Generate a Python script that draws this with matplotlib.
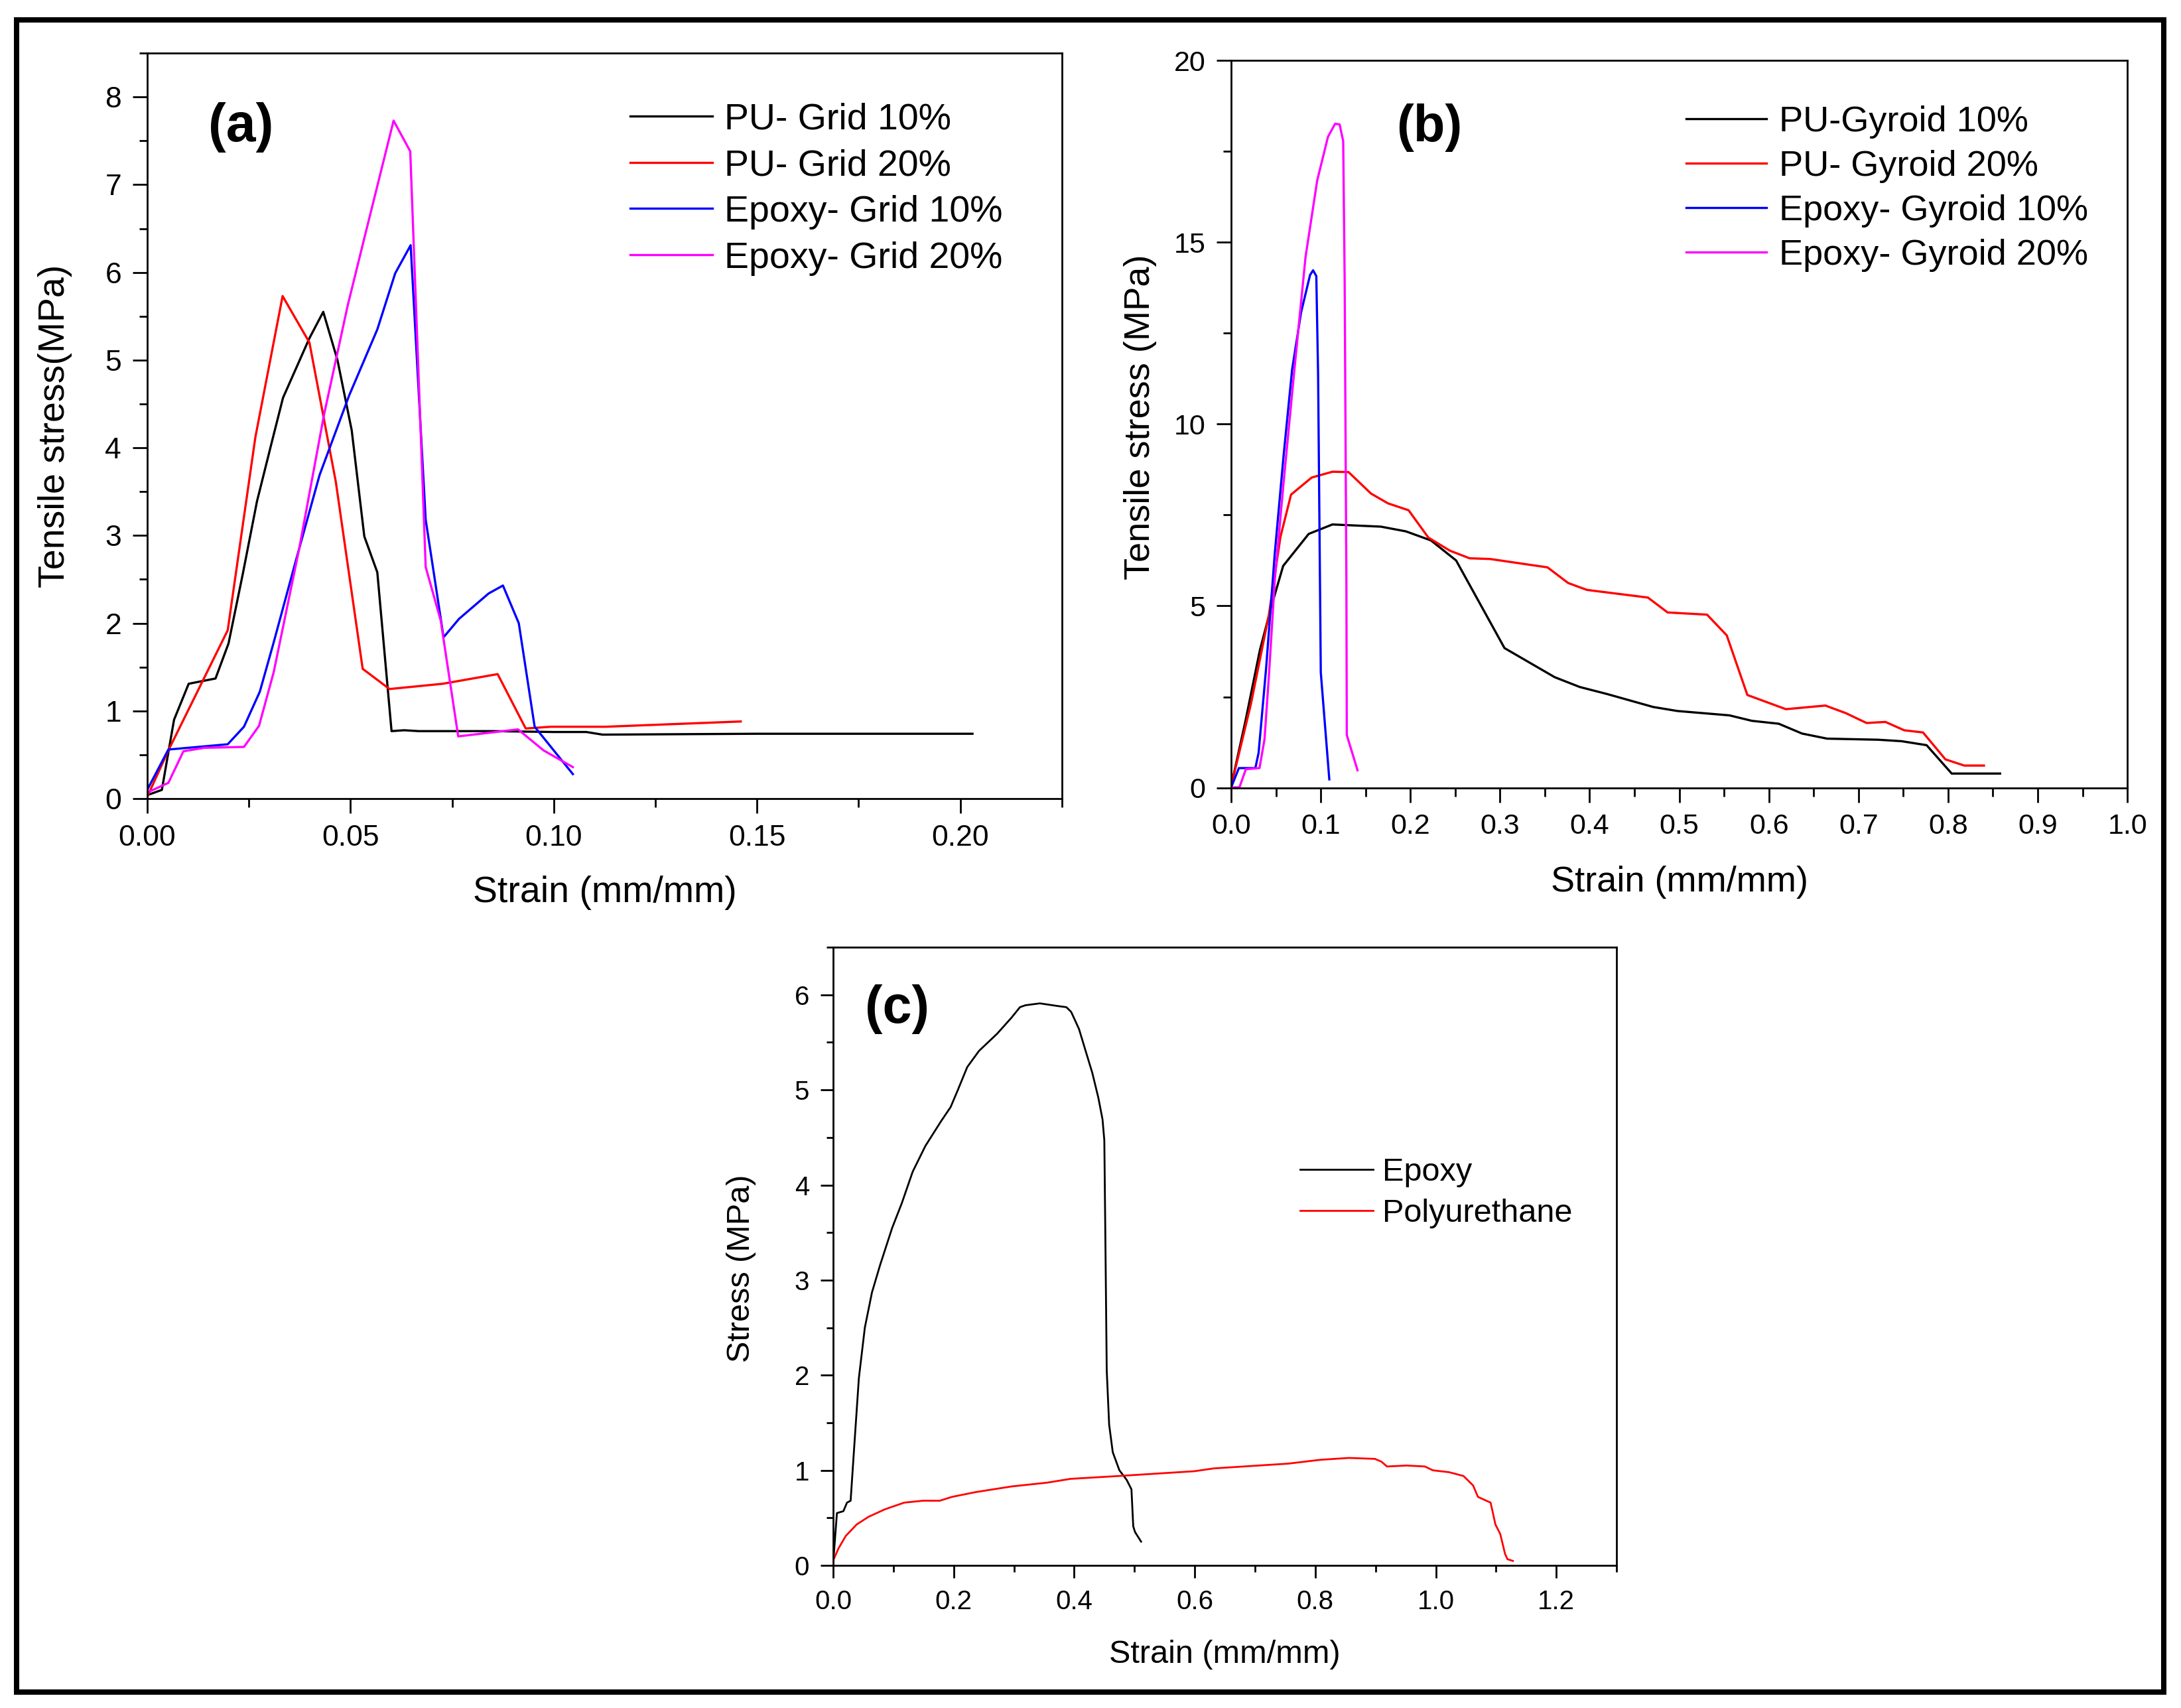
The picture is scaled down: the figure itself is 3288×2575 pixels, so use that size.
import matplotlib
matplotlib.use("Agg")
import matplotlib.pyplot as plt
from matplotlib.patches import Rectangle
from matplotlib.ticker import MultipleLocator, FormatStrFormatter

plt.rcParams['font.family'] = ['Liberation Sans', 'DejaVu Sans']

# ---------------- (a) grid structures ----------------
pu_grid10_x = [0, 0.0036, 0.0066, 0.0102, 0.0168, 0.020, 0.0235, 0.027, 0.0304, 0.0334, 0.0399, 0.0433,
               0.0468, 0.0503, 0.0534, 0.0566, 0.0601, 0.0632, 0.0668, 0.085, 0.100, 0.108, 0.112, 0.15,
               0.18, 0.203]
pu_grid10_y = [0.04, 0.1, 0.9, 1.31, 1.37, 1.77, 2.56, 3.39, 4.02, 4.57, 5.25, 5.55,
               5.0, 4.2, 2.99, 2.58, 0.77, 0.78, 0.77, 0.77, 0.76, 0.76, 0.73, 0.74,
               0.74, 0.74]

pu_grid20_x = [0, 0.0052, 0.0198, 0.0266, 0.0333, 0.0399, 0.0464, 0.053, 0.0596, 0.0727, 0.0862,
               0.0931, 0.0993, 0.1128, 0.146]
pu_grid20_y = [0.02, 0.55, 1.92, 4.12, 5.73, 5.2, 3.61, 1.48, 1.25, 1.31, 1.42,
               0.80, 0.82, 0.82, 0.88]

ep_grid10_x = [0, 0.0052, 0.0198, 0.0238, 0.0277, 0.0311, 0.0366, 0.0424, 0.0497, 0.0566, 0.061,
               0.0648, 0.0685, 0.0729, 0.0767, 0.084, 0.0875, 0.0914, 0.0953, 0.1047]
ep_grid10_y = [0.1, 0.56, 0.62, 0.82, 1.22, 1.78, 2.72, 3.69, 4.6, 5.35, 5.99,
               6.31, 3.18, 1.84, 2.05, 2.34, 2.43, 2.0, 0.82, 0.28]

ep_grid20_x = [0, 0.0052, 0.0089, 0.014, 0.0238, 0.0275, 0.0311, 0.0373, 0.0435, 0.0493, 0.0534,
               0.0606, 0.0647, 0.0685, 0.0722, 0.0765, 0.0912, 0.0975, 0.1047]
ep_grid20_y = [0.07, 0.18, 0.54, 0.58, 0.59, 0.83, 1.44, 2.83, 4.38, 5.62, 6.39,
               7.73, 7.38, 2.64, 2.03, 0.71, 0.79, 0.55, 0.36]

labels_a = ["PU- Grid 10%", "PU- Grid 20%", "Epoxy- Grid 10%", "Epoxy- Grid 20%"]

# ---------------- (b) gyroid structures ----------------
pu_gyr10_x = [0, 0.0158, 0.032, 0.045, 0.058, 0.0865, 0.113, 0.167, 0.195, 0.223, 0.251, 0.305,
              0.361, 0.389, 0.419, 0.471, 0.498, 0.556, 0.581, 0.611, 0.637, 0.665, 0.722, 0.748,
              0.776, 0.804, 0.848, 0.858]
pu_gyr10_y = [0.05, 1.82, 3.78, 5.0, 6.1, 6.98, 7.24, 7.18, 7.05, 6.8, 6.25, 3.84,
              3.04, 2.77, 2.58, 2.22, 2.11, 1.99, 1.84, 1.76, 1.49, 1.35, 1.32, 1.28,
              1.17, 0.39, 0.39, 0.39]

pu_gyr20_x = [0, 0.022, 0.042, 0.055, 0.0668, 0.0898, 0.113, 0.131, 0.156, 0.175, 0.198, 0.22,
              0.244, 0.266, 0.289, 0.353, 0.376, 0.397, 0.465, 0.487, 0.531, 0.553, 0.576, 0.619,
              0.663, 0.686, 0.709, 0.73, 0.751, 0.772, 0.797, 0.818, 0.84]
pu_gyr20_y = [0.05, 2.3, 4.74, 6.9, 8.06, 8.53, 8.69, 8.68, 8.09, 7.82, 7.63, 6.88,
              6.52, 6.31, 6.29, 6.06, 5.63, 5.44, 5.23, 4.82, 4.76, 4.19, 2.55, 2.16,
              2.26, 2.05, 1.78, 1.81, 1.58, 1.52, 0.78, 0.61, 0.61]

ep_gyr10_x = [0, 0.0086, 0.027, 0.0306, 0.039, 0.0487, 0.0586, 0.068, 0.078, 0.088, 0.0914,
              0.095, 0.097, 0.1, 0.1095]
ep_gyr10_y = [0.01, 0.54, 0.54, 0.96, 3.29, 6.46, 9.16, 11.5, 13.07, 14.1, 14.23,
              14.07, 11.36, 3.17, 0.23]

ep_gyr20_x = [0, 0.0092, 0.0164, 0.0316, 0.0372, 0.042, 0.0487, 0.0586, 0.07, 0.083, 0.096,
              0.108, 0.116, 0.121, 0.125, 0.1266, 0.1286, 0.129, 0.141]
ep_gyr20_y = [0.01, 0.01, 0.51, 0.54, 1.33, 3.04, 5.72, 8.42, 11.36, 14.6, 16.7,
              17.9, 18.26, 18.24, 17.78, 14.05, 5.49, 1.45, 0.48]

labels_b = ["PU-Gyroid 10%", "PU- Gyroid 20%", "Epoxy- Gyroid 10%", "Epoxy- Gyroid 20%"]

# ---------------- (c) bulk materials ----------------
epoxy_x = [0, 0.0063, 0.017, 0.023, 0.029, 0.0348, 0.0427, 0.0526, 0.0644, 0.078, 0.098, 0.114,
           0.132, 0.153, 0.179, 0.195, 0.207, 0.2225, 0.242, 0.272, 0.296, 0.31, 0.319, 0.343,
           0.375, 0.387, 0.395, 0.408, 0.418, 0.43, 0.44, 0.447, 0.45, 0.452, 0.454, 0.458,
           0.464, 0.475, 0.487, 0.495, 0.498, 0.501, 0.511]
epoxy_y = [0.02, 0.55, 0.57, 0.66, 0.68, 1.23, 1.97, 2.5, 2.87, 3.16, 3.55, 3.81,
           4.14, 4.41, 4.67, 4.82, 5.0, 5.24, 5.41, 5.59, 5.76, 5.87, 5.89, 5.91,
           5.88, 5.87, 5.82, 5.64, 5.43, 5.18, 4.92, 4.69, 4.47, 3.28, 2.05, 1.48,
           1.19, 1.0, 0.9, 0.8, 0.41, 0.35, 0.25]

pu_x = [0, 0.009, 0.021, 0.039, 0.0585, 0.086, 0.118, 0.149, 0.177, 0.197, 0.236, 0.296,
        0.355, 0.394, 0.474, 0.599, 0.632, 0.755, 0.808, 0.856, 0.899, 0.91, 0.919, 0.952,
        0.982, 0.995, 1.022, 1.046, 1.062, 1.07, 1.091, 1.099, 1.107, 1.115, 1.119, 1.128]
pu_y = [0.05, 0.18, 0.31, 0.43, 0.51, 0.59, 0.66, 0.68, 0.68, 0.72, 0.77, 0.83,
        0.87, 0.91, 0.94, 0.99, 1.02, 1.07, 1.11, 1.13, 1.12, 1.09, 1.04, 1.05,
        1.04, 1.0, 0.98, 0.94, 0.84, 0.72, 0.66, 0.43, 0.33, 0.12, 0.065, 0.047]

labels_c = ["Epoxy", "Polyurethane"]

colors4 = ['black', 'red', 'blue', 'magenta']

W, H = 3288, 2575
fig = plt.figure(figsize=(W / 100, H / 100), dpi=100)
fig.patch.set_facecolor('white')


def style_axes(ax, tick_fs):
    for s in ax.spines.values():
        s.set_linewidth(2.0)
    ax.tick_params(which='both', direction='out', top=False, right=False, width=2.0,
                   labelsize=tick_fs, pad=12)
    ax.tick_params(which='major', length=16)
    ax.tick_params(which='minor', length=9)


# ---- panel (a)
ax_a = fig.add_axes([0.0675, 0.5324, 0.4194, 0.4365])
for xs, ys, c, lab in zip([pu_grid10_x, pu_grid20_x, ep_grid10_x, ep_grid20_x],
                          [pu_grid10_y, pu_grid20_y, ep_grid10_y, ep_grid20_y],
                          colors4, labels_a):
    ax_a.plot(xs, ys, color=c, lw=2.4, label=lab)
ax_a.set_xlim(0, 0.225)
ax_a.set_ylim(0, 8.5)
ax_a.xaxis.set_major_locator(MultipleLocator(0.05))
ax_a.xaxis.set_minor_locator(MultipleLocator(0.025))
ax_a.xaxis.set_major_formatter(FormatStrFormatter('%.2f'))
ax_a.yaxis.set_major_locator(MultipleLocator(1))
ax_a.yaxis.set_minor_locator(MultipleLocator(0.5))
style_axes(ax_a, 32)
ax_a.set_xlabel("Strain (mm/mm)", fontsize=40)
ax_a.set_ylabel("Tensile stress(MPa)", fontsize=40)
ax_a.xaxis.set_label_coords(0.5, -0.103)
ax_a.yaxis.set_label_coords(-0.082, 0.5)
ax_a.legend(loc='upper left', bbox_to_anchor=(0.528, 0.934), frameon=False, fontsize=40,
            handlelength=2.23, handletextpad=0.32, labelspacing=0.32, borderpad=0,
            borderaxespad=0)
ax_a.text(0.067, 0.90, "(a)", transform=ax_a.transAxes, fontsize=58, fontweight='bold',
          ha='left', va='center')

# ---- panel (b)
ax_b = fig.add_axes([0.5645, 0.5388, 0.4109, 0.4258])
for xs, ys, c, lab in zip([pu_gyr10_x, pu_gyr20_x, ep_gyr10_x, ep_gyr20_x],
                          [pu_gyr10_y, pu_gyr20_y, ep_gyr10_y, ep_gyr20_y],
                          colors4, labels_b):
    ax_b.plot(xs, ys, color=c, lw=2.4, label=lab)
ax_b.set_xlim(0, 1.0)
ax_b.set_ylim(0, 20)
ax_b.xaxis.set_major_locator(MultipleLocator(0.1))
ax_b.xaxis.set_minor_locator(MultipleLocator(0.05))
ax_b.xaxis.set_major_formatter(FormatStrFormatter('%.1f'))
ax_b.yaxis.set_major_locator(MultipleLocator(5))
ax_b.yaxis.set_minor_locator(MultipleLocator(2.5))
style_axes(ax_b, 31)
ax_b.set_xlabel("Strain (mm/mm)", fontsize=39)
ax_b.set_ylabel("Tensile stress (MPa)", fontsize=39)
ax_b.xaxis.set_label_coords(0.5, -0.1075)
ax_b.yaxis.set_label_coords(-0.083, 0.51)
ax_b.legend(loc='upper left', bbox_to_anchor=(0.508, 0.938), frameon=False, fontsize=39,
            handlelength=2.22, handletextpad=0.35, labelspacing=0.31, borderpad=0,
            borderaxespad=0)
ax_b.text(0.184, 0.908, "(b)", transform=ax_b.transAxes, fontsize=56, fontweight='bold',
          ha='left', va='center')

# ---- panel (c)
ax_c = fig.add_axes([0.382, 0.0835, 0.3592, 0.3619])
ax_c.plot(epoxy_x, epoxy_y, color='black', lw=2.0, label=labels_c[0])
ax_c.plot(pu_x, pu_y, color='red', lw=2.0, label=labels_c[1])
ax_c.set_xlim(0, 1.3)
ax_c.set_ylim(0, 6.5)
ax_c.xaxis.set_major_locator(MultipleLocator(0.2))
ax_c.xaxis.set_minor_locator(MultipleLocator(0.1))
ax_c.xaxis.set_major_formatter(FormatStrFormatter('%.1f'))
ax_c.yaxis.set_major_locator(MultipleLocator(1))
ax_c.yaxis.set_minor_locator(MultipleLocator(0.5))
style_axes(ax_c, 29)
ax_c.tick_params(which='major', length=14)
ax_c.tick_params(which='minor', length=7.5)
ax_c.set_xlabel("Strain (mm/mm)", fontsize=35)
ax_c.set_ylabel("Stress (MPa)", fontsize=35)
ax_c.xaxis.set_label_coords(0.5, -0.12)
ax_c.yaxis.set_label_coords(-0.098, 0.48)
ax_c.legend(loc='upper left', bbox_to_anchor=(0.596, 0.66), frameon=False, fontsize=35,
            handlelength=2.26, handletextpad=0.29, labelspacing=0.36, borderpad=0,
            borderaxespad=0)
ax_c.text(0.041, 0.90, "(c)", transform=ax_c.transAxes, fontsize=57, fontweight='bold',
          ha='left', va='center')

# outer frame
fig.add_artist(Rectangle((25 / W, 1 - 2551 / H), (3262 - 25) / W, (2551 - 30) / H,
                         transform=fig.transFigure, fill=False, lw=5.8, ec='black'))

fig.savefig("out.png", dpi=100)
